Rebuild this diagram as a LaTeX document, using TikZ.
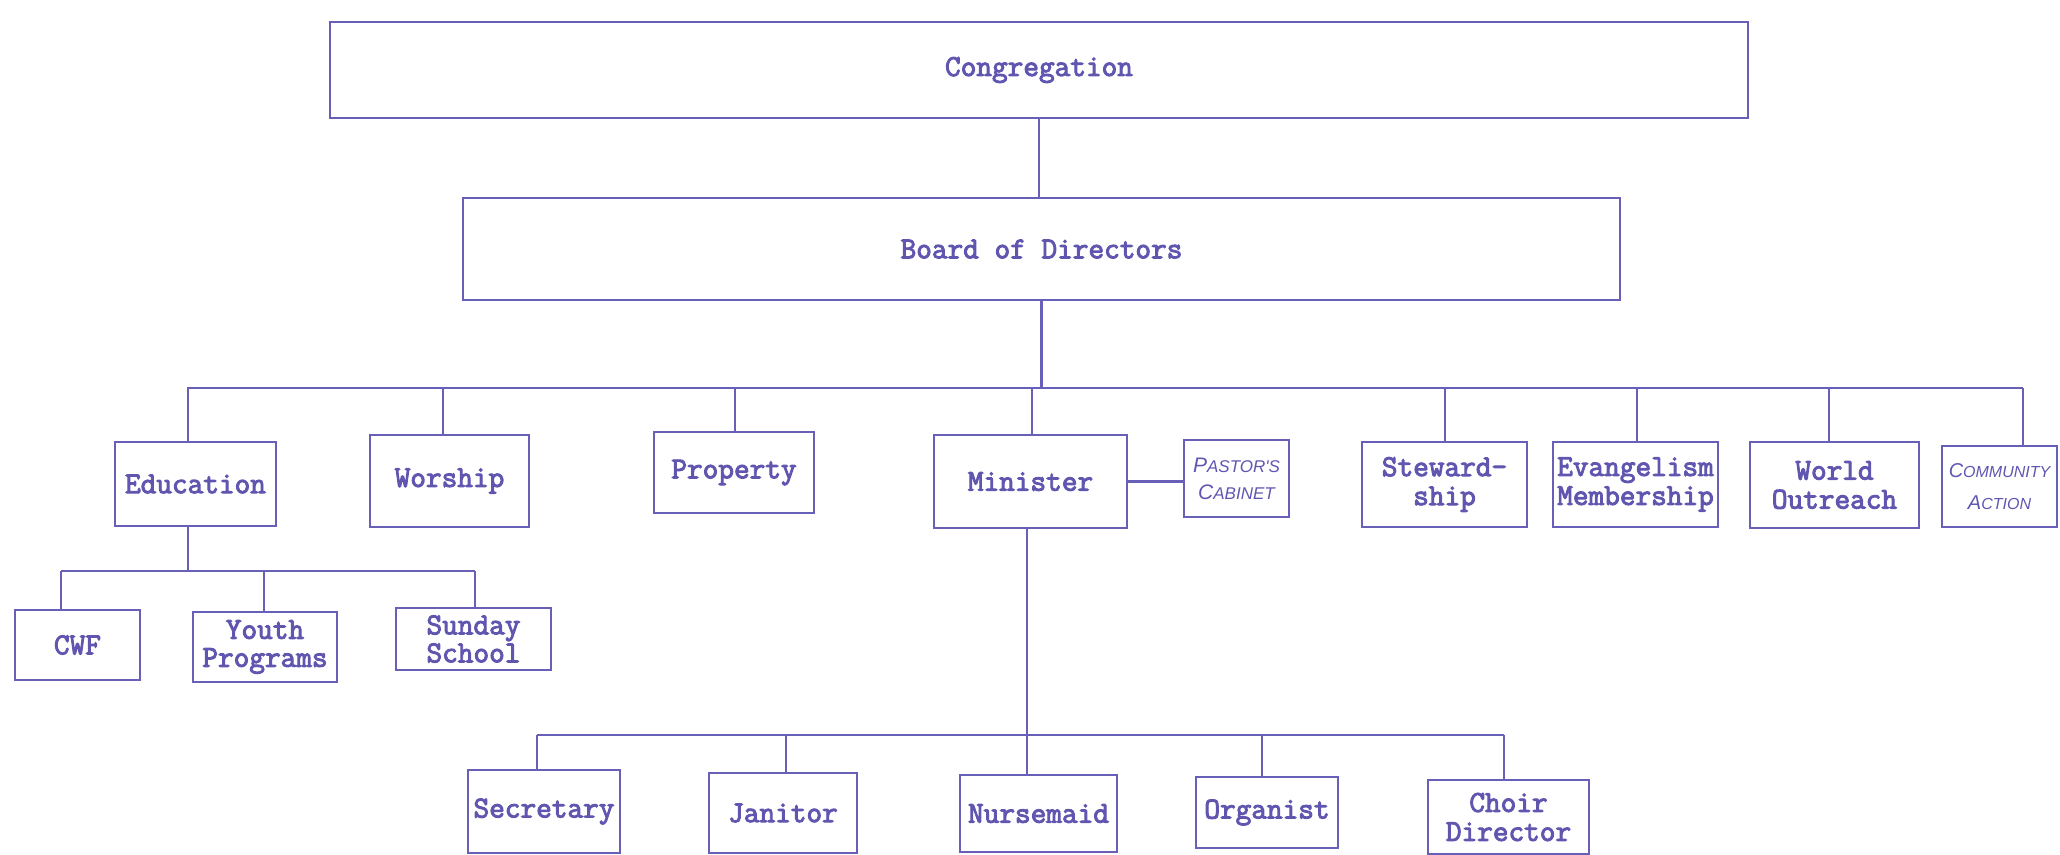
\documentclass[tikz,border=0pt]{standalone}
\usepackage{fontspec}
\newfontfamily\tw[FakeBold=3.2]{Latin Modern Mono}
\newfontfamily\hw{Liberation Sans}
\definecolor{ink}{RGB}{104,96,184}
\definecolor{inktext}{RGB}{96,86,176}
\newcommand\bx[7][box]{\node[#1,minimum width={(#4-#3)*0.5pt},minimum height={(#6-#5)*0.5pt}] (#2) at ({(#3+#4)/2},{(#5+#6)/2}) {#7};}
\begin{document}
\begin{tikzpicture}[x=0.5pt,y=-0.5pt,
  ln/.style={draw=ink,line width=1.3pt},
  box/.style={draw=ink,line width=1.3pt,inner sep=0pt,align=center,text=inktext,
    font=\tw\fontsize{15.2}{14.5}\selectfont},
  tight/.style={box,font=\tw\fontsize{15.2}{14}\selectfont},
  hand/.style={box,font=\hw\itshape\fontsize{8.5}{13.5}\selectfont},
  hand2/.style={box,font=\hw\itshape\fontsize{8}{16}\selectfont}]
\useasboundingbox (0,0) rectangle (2060,855);
% top levels
\bx{cong}{330}{1748}{22}{118}{Congregation}
\bx{board}{463}{1620}{198}{300}{Board of Directors}
% committees
\bx{edu}{115}{276}{442}{526}{Education}
\bx{wor}{370}{529}{435}{527}{Worship}
\bx{pro}{654}{814}{432}{513}{Property}
\bx{min}{934}{1127}{435}{528}{Minister}
\bx[hand]{pas}{1184}{1289}{440}{517}{{\fontsize{10.5}{13.5}\selectfont P}ASTOR'S\\{\fontsize{10.5}{13.5}\selectfont C}ABINET}
\bx{ste}{1362}{1527}{442}{527}{Steward-\\ship}
\bx{eva}{1553}{1718}{442}{527}{Evangelism\\Membership}
\bx{wout}{1750}{1919}{442}{528}{World\\Outreach}
\bx[hand2]{com}{1942}{2057}{446}{527}{{\fontsize{10}{16}\selectfont C}OMMUNITY\\{\fontsize{10}{16}\selectfont A}CTION}
% education sub-units
\bx{cwf}{15}{140}{610}{680}{CWF}
\bx[tight]{youth}{193}{337}{612}{682}{Youth\\Programs}
\bx[tight]{sun}{396}{551}{608}{670}{Sunday\\School}
% staff
\bx{sec}{468}{620}{770}{853}{Secretary}
\bx{jan}{709}{857}{773}{853}{Janitor}
\bx{nur}{960}{1117}{775}{852}{Nursemaid}
\bx{org}{1196}{1338}{777}{848}{Organist}
\bx{cho}{1428}{1589}{780}{854}{Choir\\Director}
% connectors: congregation -> board -> committee bus
\draw[ln] (cong.south) -- (cong.south |- board.north);
\coordinate (busL) at (187,388);
\coordinate (busR) at (2023,388);
\draw[ln] (board.south) -- (board.south |- busL);
\draw[ln] (busL) -- (busR);
\foreach \n/\x in {edu/188,wor/443,pro/735,min/1032,ste/1445,eva/1637,wout/1829,com/2023}{
  \coordinate (t\n) at (\x,388);
  \draw[ln] (t\n) -- (t\n |- \n.north);
}
\draw[ln] (min.east) -- (min.east -| pas.west);
% education bus
\coordinate (eL) at (61,571);
\coordinate (eR) at (475,571);
\coordinate (eD) at (188,571);
\draw[ln] (eD |- edu.south) -- (eD);
\draw[ln] (eL) -- (eR);
\foreach \n/\x in {cwf/61,youth/264,sun/475}{
  \coordinate (s\n) at (\x,571);
  \draw[ln] (s\n) -- (s\n |- \n.north);
}
% staff bus
\coordinate (fL) at (537,735);
\coordinate (fR) at (1504,735);
\coordinate (fD) at (1027,735);
\draw[ln] (fD |- min.south) -- (fD |- nur.north);
\draw[ln] (fL) -- (fR);
\foreach \n/\x in {sec/537,jan/786,org/1262,cho/1504}{
  \coordinate (f\n) at (\x,735);
  \draw[ln] (f\n) -- (f\n |- \n.north);
}
\end{tikzpicture}
\end{document}
